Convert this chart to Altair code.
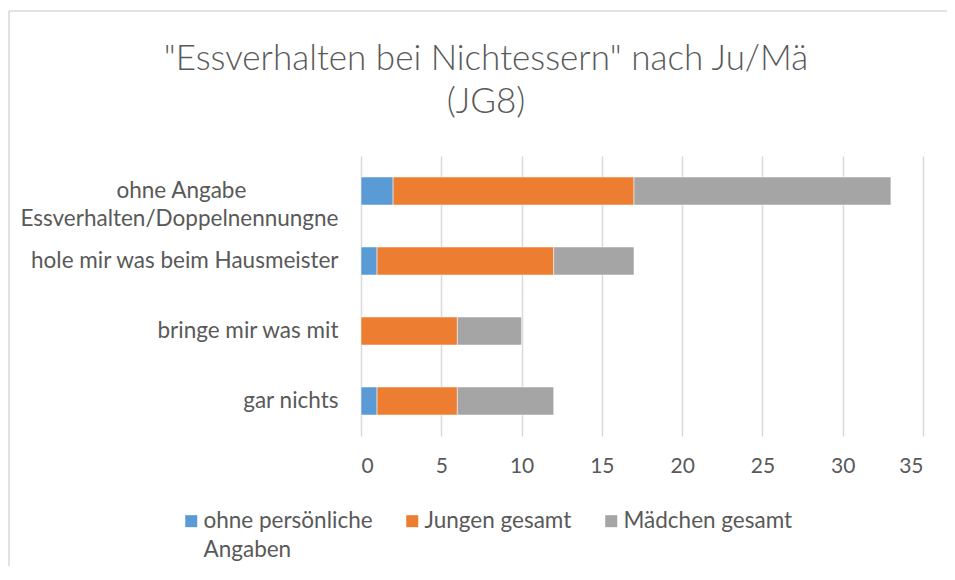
import altair as alt
import pandas as pd

categories = [
    "ohne Angabe Essverhalten/Doppelnennungne",
    "hole mir was beim Hausmeister",
    "bringe mir was mit",
    "gar nichts",
]
series = ["ohne persönliche Angaben", "Jungen gesamt", "Mädchen gesamt"]
colors = ["#5B9BD5", "#ED7D31", "#A5A5A5"]
ohne_angaben = [2, 1, 0, 1]
jungen = [15, 11, 6, 5]
maedchen = [16, 5, 4, 6]
x_ticks = [0, 5, 10, 15, 20, 25, 30, 35]

rows = []
for i, c in enumerate(categories):
    for k, (s, vals) in enumerate(zip(series, [ohne_angaben, jungen, maedchen])):
        rows.append({"Kategorie": c, "Serie": s, "Wert": vals[i], "order": k})
df = pd.DataFrame(rows)

FONT = "Lato"
TXT = "#595959"
GRID = "#D9D9D9"
FS = 22.5

nb = "\u00a0" * 16 + "\u2060"
y_label_expr = (
    f"datum.value == '{categories[0]}' ? ['ohne Angabe{nb}', 'Essverhalten/Doppelnennungne'] : datum.label"
)
legend_label_expr = (
    "datum.label == 'ohne persönliche Angaben' ? ['ohne persönliche', 'Angaben'] : [datum.label, '']"
)

bars = alt.Chart(df).mark_bar(stroke="#ffffff", strokeWidth=0.5).encode(
    y=alt.Y(
        "Kategorie:N",
        sort=categories,
        scale=alt.Scale(paddingInner=0.6, paddingOuter=0.3),
        axis=alt.Axis(
            title=None,
            domain=False,
            ticks=False,
            labelPadding=23,
            labelFont=FONT,
            labelFontSize=FS,
            labelColor=TXT,
            labelLineHeight=28,
            labelExpr=y_label_expr,
            labelLimit=400,
        ),
    ),
    x=alt.X(
        "Wert:Q",
        stack="zero",
        scale=alt.Scale(domain=[0, 35], nice=False),
        axis=alt.Axis(
            title=None,
            values=x_ticks,
            domain=False,
            ticks=False,
            grid=True,
            gridColor=GRID,
            gridWidth=1.5,
            labelPadding=19,
            labelFont=FONT,
            labelFontSize=21,
            labelColor=TXT,
        ),
    ),
    color=alt.Color(
        "Serie:N",
        sort=series,
        scale=alt.Scale(domain=series, range=colors),
        legend=alt.Legend(
            title=None,
            orient="none",
            direction="horizontal",
            legendX=-181,
            legendY=343,
            symbolType="M-1,0.8H1V2.8H-1Z",
            symbolSize=144,
            symbolStrokeWidth=0,
            symbolOpacity=1,
            labelFont=FONT,
            labelFontSize=FS,
            labelColor=TXT,
            labelOffset=1,
            columnPadding=28,
            labelExpr=legend_label_expr,
            labelLimit=400,
            labelBaseline="top",
        ),
    ),
    order=alt.Order("order:Q"),
)

frame_top = alt.Chart(alt.Data(values=[{}])).mark_rule(
    stroke=GRID, strokeWidth=1.5
).encode(
    x=alt.value(-352),
    x2=alt.value(586),
    y=alt.value(-145),
)
frame_left = alt.Chart(alt.Data(values=[{}])).mark_rule(
    stroke=GRID, strokeWidth=1.5
).encode(
    x=alt.value(-352),
    y=alt.value(-145),
    y2=alt.value(440),
)

chart = (
    alt.layer(frame_top, frame_left, bars)
    .properties(
        width=562,
        height=280,
        autosize=alt.AutoSizeParams(type="none"),
        padding={"left": 353, "top": 148, "right": 24, "bottom": 130},
        title=alt.TitleParams(
            text=['"Essverhalten bei Nichtessern" nach Ju/Mä', "(JG8)"],
            font=FONT,
            fontSize=35,
            fontWeight=300,
            color=TXT,
            lineHeight=43,
            anchor="middle",
            frame="group",
            dx=-156,
            offset=-110,
        ),
    )
    .configure(style={"guide-label": {"lineHeight": 29}})
    .configure_view(stroke=None)
)

chart.save("out.html", embed_options={"renderer": "svg", "actions": False})
